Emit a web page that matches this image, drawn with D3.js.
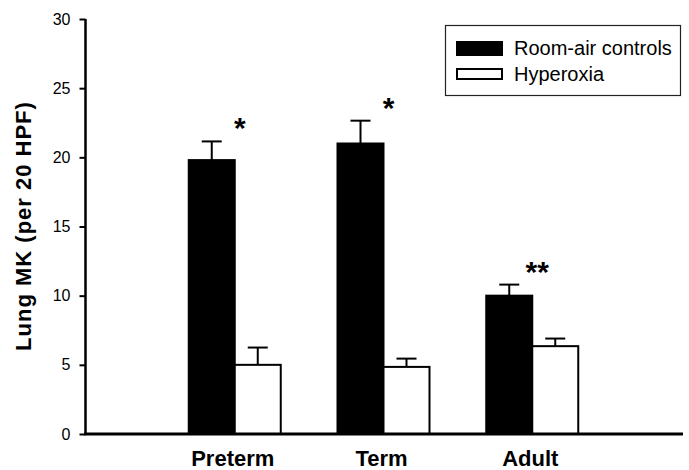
<!DOCTYPE html>
<html>
  <head>
    <script src="https://d3js.org/d3.v7.min.js"></script>
    <style>
      body { margin: 0; background: #fff; }
      text { font-family: Arial, "Liberation Sans", sans-serif; fill: #000; }
    </style>
  </head>
  <body>
    <svg></svg>
<script>
// values
const groups = ['Preterm', 'Term', 'Adult'];
const seriesNames = ['Room-air controls', 'Hyperoxia'];
const controlMean = [19.8, 21.0, 10.0];
const controlErr = [1.35, 1.65, 0.8];
const hyperMean = [5.0, 4.85, 6.35];
const hyperErr = [1.25, 0.6, 0.55];
const signif = ['*', '*', '**'];
const yTicks = [0, 5, 10, 15, 20, 25, 30];

const width = 689, height = 470;

const svg = d3.select('svg')
    .attr('width', width)
    .attr('height', height);

const x = d3.scalePoint()
    .domain(groups)
    .range([86, 681])
    .padding(1);

const y = d3.scaleLinear()
    .domain([0, 30])
    .range([434, 19]);

const barW = 46;

// one row per bar
const bars = [];
groups.forEach((g, i) => {
    bars.push({ g: g, s: 0, v: controlMean[i], e: controlErr[i] });
    bars.push({ g: g, s: 1, v: hyperMean[i], e: hyperErr[i] });
});
const barX = d => x(d.g) + (d.s === 0 ? -barW : 0);

// error bars (upper only) drawn under the bars
const err = svg.append('g').attr('class', 'errors');
err.selectAll('line.stem')
    .data(bars)
  .enter().append('line')
    .attr('x1', d => barX(d) + barW / 2)
    .attr('x2', d => barX(d) + barW / 2)
    .attr('y1', d => y(d.v))
    .attr('y2', d => y(d.v + d.e))
    .attr('stroke', '#000')
    .attr('stroke-width', 2);
err.selectAll('line.cap')
    .data(bars)
  .enter().append('line')
    .attr('x1', d => barX(d) + barW / 2 - 10)
    .attr('x2', d => barX(d) + barW / 2 + 10)
    .attr('y1', d => y(d.v + d.e))
    .attr('y2', d => y(d.v + d.e))
    .attr('stroke', '#000')
    .attr('stroke-width', 2);

svg.append('g').attr('class', 'bars')
  .selectAll('rect')
    .data(bars)
  .enter().append('rect')
    .attr('x', barX)
    .attr('y', d => y(d.v))
    .attr('width', barW)
    .attr('height', d => y(0) - y(d.v))
    .attr('fill', d => d.s === 0 ? '#000' : '#fff')
    .attr('stroke', '#000')
    .attr('stroke-width', 2);

// significance marks above each group
svg.append('g').attr('class', 'signif')
  .selectAll('text')
    .data(groups)
  .enter().append('text')
    .attr('x', g => x(g) + 5)
    .attr('y', (g, i) => y(Math.max(controlMean[i] + controlErr[i], hyperMean[i] + hyperErr[i])) - 3)
    .attr('text-anchor', 'middle')
    .attr('font-size', '30px')
    .attr('font-weight', 'bold')
    .text((g, i) => signif[i]);

// axes
const yAxis = svg.append('g')
    .attr('transform', 'translate(85.5,0)')
    .call(d3.axisLeft(y).tickValues(yTicks).tickSize(6).tickPadding(9).tickSizeOuter(0));
yAxis.select('.domain').attr('stroke-width', 2.5).attr('d', 'M0,' + (y(0) + 1) + 'V' + y(30));
yAxis.selectAll('.tick line').attr('stroke-width', 2);
yAxis.selectAll('.tick text').attr('font-size', '16px').attr('font-family', null);

const xAxis = svg.append('g')
    .attr('transform', 'translate(0,' + (y(0)) + ')');
xAxis.append('line')
    .attr('x1', 84).attr('x2', 683)
    .attr('stroke', '#000')
    .attr('stroke-width', 3);
xAxis.selectAll('text')
    .data(groups)
  .enter().append('text')
    .attr('x', g => x(g) - 2)
    .attr('y', 32)
    .attr('text-anchor', 'middle')
    .attr('font-size', '22px')
    .attr('font-weight', 'bold')
    .text(g => g);

svg.append('text')
    .attr('transform', 'translate(31,226) rotate(-90)')
    .attr('text-anchor', 'middle')
    .attr('font-size', '22px')
    .attr('font-weight', 'bold')
    .attr('letter-spacing', '1px')
    .text('Lung MK (per 20 HPF)');

// legend
const legend = svg.append('g').attr('class', 'legend');
legend.append('rect')
    .attr('x', 445.5).attr('y', 25.5)
    .attr('width', 235).attr('height', 70)
    .attr('fill', '#fff')
    .attr('stroke', '#222')
    .attr('stroke-width', 1.2);
const item = legend.selectAll('g.item')
    .data(seriesNames)
  .enter().append('g')
    .attr('class', 'item')
    .attr('transform', (d, i) => 'translate(457,' + (42 + i * 26) + ')');
item.append('rect')
    .attr('x', 0).attr('y', (d, i) => i === 0 ? 0 : 1)
    .attr('width', 45)
    .attr('height', (d, i) => i === 0 ? 13 : 10)
    .attr('fill', (d, i) => i === 0 ? '#000' : '#fff')
    .attr('stroke', '#000')
    .attr('stroke-width', 2);
item.append('text')
    .attr('x', 57)
    .attr('y', 13)
    .attr('font-size', '20px')
    .text(d => d);
</script>
  </body>
</html>
